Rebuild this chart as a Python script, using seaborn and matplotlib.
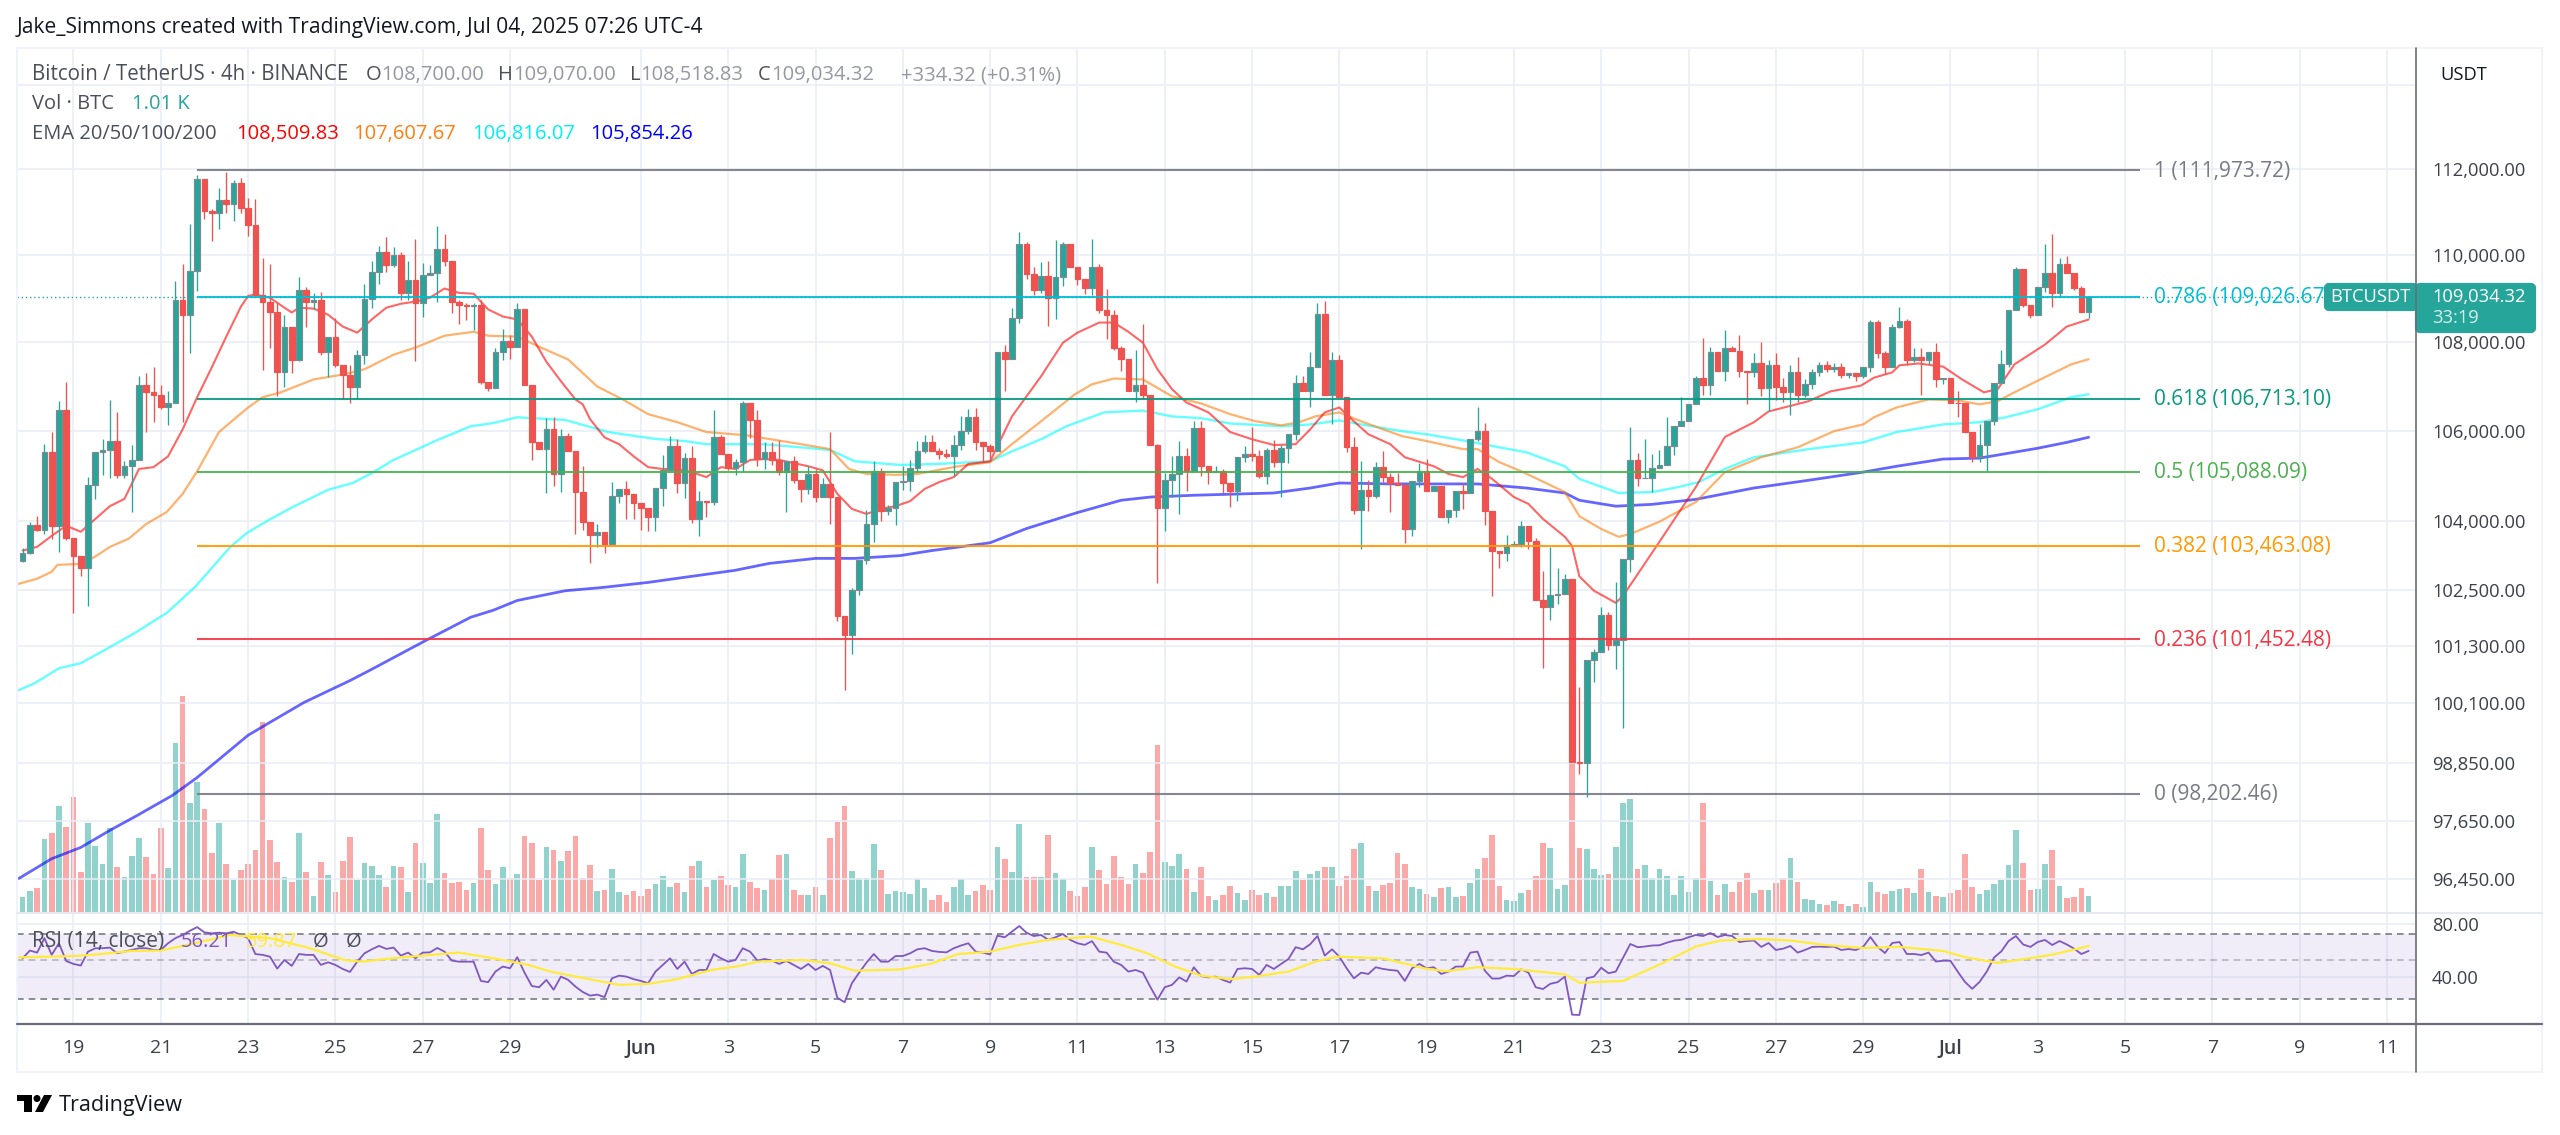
"""BTCUSDT 4h chart with fib levels, EMAs, volume and RSI."""
import matplotlib
matplotlib.use("Agg")
import matplotlib.pyplot as plt
import numpy as np
import pandas as pd
import seaborn as sns
from matplotlib.patches import Circle, FancyBboxPatch, Polygon, Rectangle
from matplotlib.ticker import NullLocator

W, H = 2560, 1135

# candle index 0 is May 19 00:00, six candles a day
first_open = 103140
closes = [
    103310, 103920, 103810, 105520, 103900, 106460, 103640,
    103250, 102990, 104800, 105520, 105570, 105770, 105020, 105210, 105350, 107020,
    106860, 106810, 106540, 106630, 108960, 108620, 109630, 111760, 111020, 110970,
    111270, 111180, 111670, 111090, 110690, 109080, 108920, 108690, 107310, 108350,
    107580, 109190, 108920, 108960, 107760, 108100, 107470, 107260, 106970, 107710,
    108990, 109600, 110070, 109770, 110000, 109120, 109420, 108890, 109540, 109580,
    110130, 109860, 108920, 108850, 108830, 108850, 107100, 106950, 107760, 108030,
    107890, 108760, 107020, 105740, 105590, 106030, 105040, 105880, 105540, 104640,
    103990, 103700, 103770, 103510, 104550, 104710, 104600, 104400, 104290, 104090,
    104730, 105120, 105650, 104840, 105390, 104050, 104440, 104420, 105850, 105480,
    105170, 105300, 106610, 106230, 105370, 105520, 105350, 105080, 105320, 104900,
    104710, 105040, 104530, 104820, 104530, 101940, 101530, 102510, 103160, 103940,
    105100, 104230, 104290, 104860, 104880, 105170, 105540, 105740, 105540, 105480,
    105430, 105680, 105990, 106300, 105740, 105650, 105540, 107760, 107620, 108550,
    110250, 109560, 109190, 109510, 109010, 109490, 110250, 109720, 109440, 109240,
    109720, 108730, 108620, 107850, 107620, 106900, 107020, 106790, 105680, 104290,
    104900, 105040, 105430, 105100, 106050, 105210, 105080, 105100, 104840, 104660,
    105410, 105480, 105430, 105000, 105570, 105300, 105610, 105920, 107060, 106880,
    107420, 108640, 106790, 107580, 106750, 105630, 104250, 104690, 104550, 105190,
    104970, 104840, 104800, 103830, 104880, 105100, 104660, 104770, 104090, 104250,
    104660, 104620, 105810, 105990, 104230, 103340, 103310, 103490, 103510, 103900,
    103570, 102280, 102130, 102390, 102430, 102750, 98870, 98850, 101000, 101170,
    101960, 101320, 101430, 103180, 105350, 104950, 104950, 105170, 105240, 105650,
    106100, 106210, 106590, 107190, 107020, 107760, 107330, 107850, 107800, 107330,
    107310, 107530, 106950, 107470, 106970, 106860, 107310, 106810, 107040, 107310,
    107470, 107380, 107420, 107240, 107290, 107220, 107420, 108460, 107740, 107420,
    108350, 108480, 107600, 107650, 107580, 107760, 107150, 107190, 106630, 106610,
    105970, 105410, 105680, 106210, 107080, 107490, 108730, 109670, 108850, 108620,
    109260, 109580, 109120, 109790, 109580, 109240, 108690, 109034.32,
]
wick_up = [
    110, 65, 200, 175, 460, 200, 640, 0, 0, 175, 0, 240, 925, 640, 110, 330, 200, 285,
    570, 220, 265, 440, 835, 1080, 110, 0, 45, 285, 660, 65, 110, 240, 615, 835, 860,
    220, 265, 0, 285, 65, 155, 175, 0, 440, 0, 220, 110, 330, 265, 130, 330, 175, 65,
    440, 945, 265, 175, 530, 350, 0, 45, 45, 45, 110, 0, 90, 265, 130, 130, 0, 0, 0,
    265, 285, 155, 65, 0, 570, 0, 175, 0, 310, 0, 175, 0, 0, 0, 0, 330, 240, 175, 110,
    265, 220, 0, 615, 65, 0, 65, 65, 0, 240, 220, 220, 440, 0, 110, 0, 175, 110, 130,
    1145, 0, 0, 45, 0, 310, 220, 65, 65, 0, 330, 175, 220, 175, 175, 65, 110, 220, 330,
    175, 200, 0, 65, 0, 175, 220, 265, 45, 155, 310, 350, 860, 45, 0, 0, 0, 640, 65,
    485, 110, 65, 0, 790, 1385, 0, 20, 155, 395, 330, 175, 175, 175, 0, 110, 45, 0, 0,
    175, 595, 130, 45, 220, 65, 0, 200, 175, 350, 240, 285, 200, 130, 0, 240, 640, 220,
    110, 350, 90, 220, 0, 0, 175, 265, 0, 0, 0, 0, 175, 0, 530, 175, 0, 0, 220, 65,
    110, 0, 65, 640, 1055, 550, 110, 0, 1560, 0, 65, 175, 65, 1255, 0, 725, 155, 860,
    310, 330, 660, 0, 550, 0, 45, 900, 130, 0, 420, 65, 350, 0, 220, 460, 110, 285,
    220, 175, 350, 110, 65, 65, 90, 110, 110, 0, 0, 0, 45, 45, 45, 65, 310, 45, 220,
    220, 0, 220, 0, 0, 265, 0, 0, 460, 0, 0, 330, 0, 45, 0, 0, 0, 660, 900, 130, 175,
    0, 45, 20,
]
wick_dn = [
    20, 20, 20, 90, 285, 570, 45, 1230, 175, 835, 310, 505, 615, 65, 65, 1010, 0, 880,
    615, 45, 420, 0, 2420, 880, 460, 200, 660, 375, 200, 395, 110, 265, 45, 1560, 835,
    530, 330, 285, 20, 570, 175, 65, 550, 45, 550, 350, 265, 220, 220, 265, 175, 65,
    175, 175, 1320, 330, 0, 660, 110, 265, 440, 330, 550, 45, 65, 0, 175, 285, 0, 0,
    395, 0, 970, 265, 395, 0, 925, 175, 615, 265, 200, 0, 155, 550, 350, 485, 310, 310,
    395, 45, 220, 330, 90, 375, 330, 65, 0, 45, 155, 220, 395, 155, 220, 110, 65, 880,
    65, 285, 110, 110, 0, 595, 90, 1165, 395, 110, 90, 395, 220, 90, 375, 175, 220, 90,
    45, 0, 110, 45, 440, 110, 65, 175, 330, 220, 0, 725, 0, 110, 110, 110, 65, 640,
    485, 220, 0, 130, 155, 175, 65, 550, 45, 285, 0, 265, 90, 0, 1630, 505, 375, 880,
    440, 0, 220, 265, 0, 220, 350, 220, 110, 110, 45, 175, 110, 770, 330, 130, 0, 350,
    0, 0, 640, 0, 110, 90, 860, 330, 45, 110, 640, 0, 310, 155, 130, 0, 0, 0, 130, 155,
    350, 0, 45, 310, 970, 330, 175, 0, 65, 175, 0, 1300, 265, 175, 0, 0, 240, 705, 460,
    0, 110, 505, 1850, 285, 175, 0, 310, 0, 0, 200, 0, 0, 0, 220, 220, 0, 220, 0, 130,
    705, 110, 175, 505, 285, 220, 505, 175, 65, 110, 90, 65, 65, 65, 65, 110, 45, 110,
    110, 155, 0, 45, 130, 65, 770, 90, 175, 110, 0, 310, 0, 110, 110, 570, 90, 0, 65,
    0, 65, 65, 0, 110, 330, 90, 0, 45, 0, 155,
]
volumes = [
    924, 1344, 1512, 4600, 4977, 6700, 5355, 7245, 2520, 5586, 4180, 3045, 5270, 2835,
    2205, 3550, 4660, 3465, 2415, 5310, 2790, 10650, 13600, 6870, 8190, 6510, 3720,
    5590, 3045, 2040, 2670, 3000, 3885, 11970, 4560, 3150, 2205, 1910, 5000, 2520, 1030,
    3150, 2350, 1280, 3190, 4700, 2000, 3090, 2880, 2350, 1575, 2920, 2835, 1280, 4350,
    3090, 1800, 6200, 2460, 1850, 1890, 1365, 1800, 5270, 2625, 1760, 2835, 2160, 2370,
    4770, 4350, 2040, 4070, 3885, 3230, 3860, 4770, 2160, 2980, 1345, 1400, 2710, 1240,
    1050, 1320, 990, 1470, 1760, 2290, 1600, 1800, 1280, 2920, 3230, 1550, 2000, 2250,
    1720, 1550, 3675, 1890, 1510, 1400, 2100, 3590, 3630, 1400, 1090, 1090, 1550, 1050,
    4640, 5690, 6700, 2560, 2160, 2120, 4300, 2625, 1130, 1340, 1280, 1130, 2080, 1490,
    735, 1090, 650, 1575, 2080, 1090, 1320, 1720, 1400, 4070, 3340, 2520, 5565, 2200,
    2200, 2200, 4830, 2460, 2080, 1340, 1030, 1575, 4070, 2670, 1760, 3510, 2200, 1760,
    3020, 2440, 3780, 10500, 3150, 2920, 3630, 2730, 1280, 2835, 1010, 780, 1050, 1620,
    1220, 780, 1365, 1050, 1220, 970, 1660, 1620, 2600, 2040, 2370, 2560, 2835, 2835,
    1640, 2250, 3990, 4350, 1640, 1320, 1680, 1800, 3720, 3045, 1575, 1450, 1130, 970,
    1530, 1575, 920, 1010, 1800, 2710, 3400, 4830, 1660, 780, 690, 1180, 1400, 2250,
    4350, 4030, 1450, 1720, 9500, 4030, 3970, 2730, 2350, 2370, 4120, 6870, 7100, 2710,
    2960, 2120, 2730, 2250, 1090, 2250, 1280, 2160, 6860, 1960, 1070, 1785, 1250, 1890,
    2450, 1200, 1400, 1380, 1840, 2170, 3420, 1890, 790, 740, 535, 430, 710, 535, 380,
    510, 330, 1890, 1250, 1150, 1350, 1450, 1500, 1200, 2730, 1250, 1020, 940, 1220,
    1380, 3650, 1580, 1120, 1380, 1785, 2010, 2980, 5150, 3060, 1380, 1450, 3010, 3880,
    1610, 870, 970, 1500, 1010,
]
rsi = [
    51.1, 56.5, 55.0, 66.3, 53.4, 62.1, 49.3, 47.5, 46.5, 55.7, 58.2, 58.2, 58.7, 54.5,
    55.7, 57.0, 58.2, 58.2, 57.0, 57.0, 62.1, 66.3, 69.1, 73.0, 76.5, 71.5, 70.6, 71.2,
    70.6, 72.1, 69.1, 66.3, 54.0, 53.4, 52.2, 44.7, 50.0, 46.3, 54.0, 53.4, 53.4, 46.9,
    48.5, 46.9, 44.5, 42.8, 48.9, 54.5, 57.4, 60.0, 57.7, 58.7, 52.9, 55.0, 51.1, 55.0,
    55.2, 58.4, 55.7, 49.6, 48.9, 48.9, 48.9, 38.1, 37.5, 43.0, 45.9, 44.9, 51.8, 42.4,
    35.7, 35.1, 38.6, 34.0, 40.3, 38.6, 35.4, 33.0, 31.5, 31.9, 30.9, 39.4, 40.8, 40.3,
    39.0, 38.1, 37.0, 43.0, 46.9, 51.1, 44.5, 48.9, 41.7, 43.9, 43.9, 54.0, 51.1, 48.9,
    50.0, 58.2, 55.7, 49.6, 50.6, 49.6, 47.5, 49.4, 46.9, 44.5, 47.5, 43.9, 46.3, 43.9,
    30.6, 28.9, 37.0, 42.4, 48.3, 54.0, 48.9, 48.9, 52.6, 52.6, 54.5, 57.4, 58.2, 56.2,
    55.5, 55.2, 58.2, 60.3, 62.1, 55.7, 55.0, 53.7, 68.5, 67.1, 72.1, 77.6, 71.2, 68.2,
    69.1, 64.9, 67.1, 70.0, 64.9, 62.1, 60.8, 63.8, 55.7, 55.0, 48.9, 46.9, 43.0, 43.9,
    42.4, 35.4, 29.9, 35.1, 36.2, 39.9, 37.8, 45.5, 40.6, 39.9, 40.3, 38.6, 37.3, 44.5,
    44.9, 44.5, 41.2, 46.9, 44.5, 47.5, 50.6, 59.0, 57.4, 61.3, 68.2, 52.9, 57.4, 52.2,
    44.9, 39.4, 42.4, 41.7, 45.5, 44.5, 43.9, 43.5, 38.1, 44.9, 47.5, 44.9, 45.5, 41.7,
    43.0, 45.9, 45.9, 55.0, 55.7, 43.5, 39.3, 39.3, 40.8, 40.6, 44.3, 42.4, 35.1, 34.3,
    36.7, 37.5, 40.3, 24.6, 24.5, 39.4, 40.3, 45.2, 42.1, 43.0, 51.5, 61.5, 59.0, 59.5,
    60.3, 60.5, 62.5, 64.2, 64.9, 67.1, 69.1, 68.2, 70.9, 67.3, 69.1, 68.2, 63.1, 63.9,
    64.3, 59.2, 62.3, 56.9, 57.9, 59.9, 55.0, 56.9, 59.2, 59.4, 59.2, 59.4, 56.9, 57.6,
    56.9, 59.2, 67.3, 59.2, 54.7, 62.3, 63.1, 54.0, 54.0, 53.3, 55.0, 49.0, 49.5, 49.5,
    43.0, 37.6, 34.4, 37.6, 43.0, 51.6, 55.9, 63.9, 68.2, 61.1, 59.2, 63.1, 64.8, 60.7,
    63.9, 61.1, 57.9, 54.0, 56.21,
]
rsi_ma_pts = [
    (-7.5, 51.7), (0, 52.6), (2.5, 53.4), (8, 56.2), (12, 56.5), (16.7, 62.1), (21.5, 69.1),
    (27, 66.3), (32.5, 58.2), (37.2, 50.0), (39.6, 48.9), (45, 51.7), (53, 55.0), (57.7, 51.1),
    (62.5, 46.9), (65.6, 43.0), (70.3, 39.4), (75, 36.2), (79, 36.7), (83, 39.0), (87.7, 43.9),
    (91.6, 46.3), (94, 48.9), (100.3, 50.0), (104, 47.9), (107.4, 43.5), (113.6, 44.2),
    (117.8, 47.5), (121.6, 54.0), (126, 55.7), (130, 60.8), (134, 64.9), (139.8, 67.7),
    (144, 60.8), (147.6, 54.5), (151.4, 45.9), (155, 40.8), (159, 39.0), (162.5, 40.3),
    (167, 43.0), (170.7, 48.9), (173.7, 52.2), (180, 51.1), (185.6, 44.9), (188.6, 43.2),
    (193, 45.5), (198, 44.5), (205, 41.5), (207, 37.2), (213, 38.1), (218.4, 47.9), (223, 59.5),
    (226.4, 64.3), (231.7, 65.6), (236, 64.3), (240.8, 60.7), (246, 58.4), (251, 59.2),
    (257, 56.2), (260, 51.9), (264.5, 48.1), (270, 51.9), (272.4, 54.0), (277, 59.87),
]
ema20_pts = [
    (-7, 103360), (-5, 103440), (-3, 103680), (-1, 103900), (1, 103770), (3, 104050), (5, 104330),
    (7, 104490), (9, 105150), (11, 105190), (13, 105430), (15, 106030), (17, 106750), (19, 107420),
    (21, 108120), (23, 108800), (24, 109050), (25, 109080), (27, 109010), (29, 108780), (30, 108670),
    (31, 108780), (33, 108760), (35, 108620), (37, 108350), (39, 108210), (41, 108510), (43, 108780),
    (45, 108870), (47, 108920), (49, 109010), (51, 109220), (53, 109120), (55, 109100), (57, 108740),
    (59, 108580), (61, 108510), (63, 108120), (65, 107550), (67, 107110), (69, 106700), (70, 106590),
    (71, 106260), (73, 105850), (75, 105700), (77, 105430), (79, 105190), (81, 105150), (83, 105150),
    (85, 105080), (87, 104970), (89, 105190), (91, 105150), (93, 105350), (95, 105370), (97, 105350),
    (99, 105280), (101, 105210), (103, 105120), (105, 104600), (107, 104270), (109, 104160),
    (111, 104270), (113, 104330), (115, 104440), (117, 104710), (119, 104860), (121, 104970),
    (123, 105260), (125, 105300), (126, 105320), (129, 106320), (133, 107220), (136, 107980),
    (138, 108210), (141, 108440), (143, 108440), (145, 108230), (147, 107980), (149, 107380),
    (151, 106930), (153, 106630), (156, 106410), (159, 105970), (162, 105810), (165, 105680),
    (168, 105700), (170, 106030), (172, 106410), (174, 106520), (176, 106210), (178, 105920),
    (181, 105700), (183, 105410), (187, 105210), (189, 105040), (191, 104970), (193, 105150),
    (195, 104930), (198, 104530), (200, 104380), (202, 104050), (205, 103660), (206, 103460),
    (207, 102800), (209, 102490), (212, 102230), (213, 102380), (218, 103550), (223, 104750),
    (227, 105860), (231, 106190), (233, 106430), (238.5, 106660), (241.5, 106880), (245.7, 107010),
    (247.5, 107190), (250, 107310), (251, 107470), (253.6, 107510), (257, 107440), (259.6, 107150),
    (262.6, 106860), (264.5, 106930), (266.8, 107490), (271, 107940), (274, 108350), (277, 108509.83),
]
ema50_pts = [
    (-7.5, 102640), (-5, 102750), (-3, 102900), (-2.2, 103050), (1, 103070), (3, 103230), (5, 103440),
    (7.6, 103620), (10, 103940), (12.8, 104200), (15, 104600), (17, 105100), (20, 105970), (24, 106520),
    (26, 106750), (28.5, 106860), (33, 107150), (37, 107260), (40, 107380), (44, 107710), (47, 107870),
    (51, 108140), (55, 108230), (57, 108140), (61, 108120), (64, 107890), (68, 107600), (72, 106990),
    (75.5, 106700), (79, 106370), (83, 106190), (87, 105970), (92.4, 105900), (100, 105700), (104, 105590),
    (106.6, 105150), (109, 105040), (113, 105020), (116, 105040), (121.6, 105210), (126, 105300),
    (129, 105700), (133, 106210), (137.6, 106810), (140, 107040), (143, 107170), (147, 107150),
    (151, 106770), (155, 106610), (159, 106370), (162.5, 106210), (166, 106120), (168.5, 106190),
    (170.7, 106320), (174, 106410), (177, 106210), (182.6, 105880), (186, 105770), (191, 105590),
    (193, 105590), (196, 105300), (199, 105100), (205, 104640), (207, 104110), (210, 103830),
    (212.4, 103660), (214, 103720), (218, 103990), (223, 104420), (227, 105080), (232, 105410),
    (237, 105630), (242, 105990), (246, 106140), (247.5, 106300), (250.6, 106520), (255, 106700),
    (259, 106680), (262, 106590), (264.5, 106660), (266.8, 106860), (269, 107040), (274.6, 107490),
    (277, 107607.67),
]
ema100_pts = [
    (-7.5, 100370), (-5.4, 100510), (-2, 100830), (1, 100940), (5, 101280), (8.4, 101580), (12.8, 102010),
    (16.7, 102570), (21.5, 103430), (23.8, 103740), (27, 104040), (30, 104300), (35, 104690), (38.4, 104840),
    (41, 105060), (44, 105350), (50, 105790), (54.6, 106100), (57.7, 106170), (61, 106300), (67.6, 106240),
    (73.5, 105970), (79.8, 105820), (84, 105770), (87, 105700), (94.8, 105700), (100, 105630), (104, 105570),
    (107.4, 105320), (113.6, 105240), (118.6, 105260), (126, 105320), (129, 105540), (133, 105810),
    (136.5, 106100), (141.7, 106410), (147, 106450), (151, 106320), (155, 106280), (159, 106160),
    (166, 106100), (170, 106140), (174, 106230), (177, 106140), (182.6, 105990), (186, 105920),
    (191.5, 105770), (196, 105630), (199.7, 105520), (205, 105210), (207, 104930), (212.4, 104620),
    (217, 104640), (220.6, 104750), (223.4, 104860), (227, 105150), (231, 105410), (238.5, 105590),
    (246, 105740), (250.6, 105970), (257, 106140), (262, 106190), (265.6, 106300), (270, 106480),
    (274.6, 106750), (277, 106816.07),
]
ema200_pts = [
    (-7.5, 96470), (-3, 96870), (1, 97100), (5, 97450), (8.8, 97760), (13.6, 98170), (17, 98540),
    (24, 99420), (27, 99690), (31.7, 100110), (38, 100570), (41, 100810), (47.9, 101380), (54.6, 101920),
    (57.7, 102070), (61, 102280), (67.6, 102490), (72.7, 102560), (79, 102670), (84, 102780), (90.9, 102930),
    (95.6, 103080), (102, 103190), (107.4, 103190), (113.6, 103250), (118, 103360), (126, 103530),
    (131, 103840), (138, 104190), (144, 104460), (148, 104530), (154, 104570), (165, 104620), (170, 104730),
    (174, 104840), (181, 104820), (193, 104820), (199.7, 104730), (205, 104620), (207, 104460), (212, 104330),
    (217, 104370), (223, 104480), (231, 104730), (238.5, 104900), (246, 105080), (250.6, 105210),
    (257, 105370), (262, 105390), (266, 105500), (270, 105610), (274, 105740), (277, 105854.26),
]
fib_levels = [111973.72, 109026.67, 106713.10, 105088.09, 103463.08, 101452.48, 98202.46]
fib_names = ["1", "0.786", "0.618", "0.5", "0.382", "0.236", "0"]
fib_colors = ["#787b86", "#00bcd4", "#089981", "#4caf50", "#ff9800", "#f23645", "#787b86"]
price_ticks = [112000, 110000, 108000, 106000, 104000, 102500, 101300, 100100, 98850, 97650, 96450]
tick_days = [0, 2, 4, 6, 8, 10, 13, 15, 17, 19, 21, 23, 25, 27, 29, 31, 33, 35, 37, 39, 41, 43, 45, 47, 49, 51, 53]
tick_names = ["19", "21", "23", "25", "27", "29", "Jun", "3", "5", "7", "9", "11", "13", "15", "17", "19", "21",
              "23", "25", "27", "29", "Jul", "3", "5", "7", "9", "11"]

UP, DOWN = "#26a69a", "#ef5350"
GRID = "#e8eef5"
FONT = "Open Sans"

sns.set_theme(style="white")
plt.rcParams["font.family"] = [FONT, "DejaVu Sans"]


def pane(top, bottom):
    """Axes between two pixel rows, from the left frame edge to the price scale."""
    return [17 / W, 1 - bottom / H, (2416 - 17) / W, (bottom - top) / H]


def main() -> None:
    n = len(closes)
    df = pd.DataFrame({"k": np.arange(n) - 7, "close": closes, "up": wick_up, "dn": wick_dn, "vol": volumes, "rsi": rsi})
    df["open"] = df["close"].shift(1).fillna(first_open)
    df["rising"] = df["close"] >= df["open"]
    df["body_top"] = df[["open", "close"]].max(axis=1)
    df["body_low"] = df[["open", "close"]].min(axis=1)
    xlim = (-7.766, 322.0)
    day_ticks = [6 * d for d in tick_days]

    fig = plt.figure(figsize=(W / 100, H / 100), dpi=100, facecolor="white")
    vol_ax = fig.add_axes(pane(48, 913), zorder=1)
    ax = fig.add_axes(pane(48, 913), zorder=2)
    rsi_ax = fig.add_axes(pane(913, 1024), zorder=1)
    top = fig.add_axes([0, 0, 1, 1], zorder=5)
    top.set_xlim(0, W)
    top.set_ylim(H, 0)
    top.axis("off")

    # Volume at the foot of the main pane. No edge: the theme's white one eats the bar width.
    sns.barplot(
        data=df, x="k", y="vol", hue="rising", palette={True: "#92d2cc", False: "#f9a9a8"},
        native_scale=True, dodge=False, width=0.78, errorbar=None, saturation=1, legend=False,
        linewidth=0, ax=vol_ax,
    )
    vol_ax.set_xlim(*xlim)
    vol_ax.set_ylim(-63, 54432)
    vol_ax.axis("off")

    # Price pane.
    ax.patch.set_visible(False)
    ax.set_yscale("log")
    ax.set_xlim(*xlim)
    ax.set_ylim(95770, 114890)
    ax.yaxis.set_minor_locator(NullLocator())
    ax.set_yticks(price_ticks + [114000])
    ax.set_yticklabels([f"{p:,.2f}" for p in price_ticks] + [""])
    ax.yaxis.tick_right()
    ax.tick_params(axis="y", length=0, pad=11.5, labelsize=13.2, labelcolor="#3d404a")
    ax.set_xticks(day_ticks)
    ax.tick_params(axis="x", length=0, labelbottom=False)
    ax.grid(True, color=GRID, lw=1.1, zorder=0)
    ax.set_axisbelow(True)
    for s in ax.spines.values():
        s.set_visible(False)
    ax.axhline(closes[-1], color=UP, lw=1.0, ls=(0, (1, 2)), zorder=1.5)

    ema_sets = [
        (ema200_pts, "#0000ff", 2.0), (ema100_pts, "#00ffff", 1.7),
        (ema50_pts, "#ff7f0e", 1.6), (ema20_pts, "#ff0000", 1.5),
    ]
    for pts, color, lw in ema_sets:
        xs, ys = zip(*pts)
        sns.lineplot(x=list(xs), y=list(ys), color=color, alpha=0.6, lw=lw, estimator=None, ax=ax, zorder=3)

    # Candles.
    wick_colors = [UP if r else DOWN for r in df["rising"]]
    ax.vlines(df["k"], df["body_low"] - df["dn"], df["body_top"] + df["up"], colors=wick_colors, lw=0.95, zorder=4)
    for rising, face, edge in [(True, UP, "#7f8a90"), (False, DOWN, DOWN)]:
        part = df[df["rising"] == rising]
        ax.bar(part["k"], part["body_top"] - part["body_low"], bottom=part["body_low"], width=0.78,
               color=face, edgecolor=edge, lw=0.85, zorder=5)

    # Fib levels.
    for level, name, color in zip(fib_levels, fib_names, fib_colors):
        ax.hlines(level, 17, 284, color=color, lw=1.5, alpha=0.9, zorder=6)
        ax.annotate(f"{name} ({level:,.2f})", xy=(286, level), xytext=(0, -1), textcoords="offset pixels",
                    color=color, fontsize=15, va="center", ha="left", zorder=6)
    ax.set_xlabel("")
    ax.set_ylabel("")

    # RSI pane.
    rsi_ax.set_yscale("log")
    rsi_ax.set_xlim(*xlim)
    rsi_ax.set_ylim(21.8, 91.9)
    rsi_ax.yaxis.set_minor_locator(NullLocator())
    rsi_ax.set_yticks([40, 80])
    rsi_ax.set_yticklabels(["40.00", "80.00"])
    rsi_ax.yaxis.tick_right()
    rsi_ax.tick_params(axis="y", length=0, pad=11.5, labelsize=13.2, labelcolor="#3d404a")
    rsi_ax.set_xticks(day_ticks)
    rsi_ax.set_xticklabels(tick_names)
    rsi_ax.tick_params(axis="x", length=0, pad=11, labelsize=14, labelcolor="#3d404a")
    for label, name in zip(rsi_ax.get_xticklabels(), tick_names):
        if name in ("Jun", "Jul"):
            label.set_fontweight("semibold")
    rsi_ax.grid(True, color=GRID, lw=1.1)
    rsi_ax.set_axisbelow(True)
    for s in rsi_ax.spines.values():
        s.set_visible(False)
    rsi_ax.axhspan(30, 70, color="#7e57c2", alpha=0.1, lw=0, zorder=1)
    rsi_ax.axhline(70, color="#787b86", lw=1.2, ls=(0, (4, 3)), zorder=2)
    rsi_ax.axhline(50, color="#787b86", lw=1.2, ls=(0, (4, 3)), alpha=0.5, zorder=2)
    rsi_ax.axhline(30, color="#787b86", lw=1.2, ls=(0, (4, 3)), zorder=2)
    sns.lineplot(data=df, x="k", y="rsi", color="#7e57c2", lw=1.3, estimator=None, ax=rsi_ax, zorder=3)
    xs, ys = zip(*rsi_ma_pts)
    sns.lineplot(x=list(xs), y=list(ys), color="#ffeb3b", lw=1.6, estimator=None, ax=rsi_ax, zorder=4)
    rsi_ax.set_xlabel("")
    rsi_ax.set_ylabel("")

    # Frame and scale lines.
    top.add_patch(Rectangle((17, 48), 2525, 1024, fill=False, ec="#f0f3fa", lw=1.5))
    top.plot([17, 2542], [913, 913], color="#e6e9f0", lw=1.5)
    top.plot([17, 2542], [1024, 1024], color="#6a6d78", lw=1.6)
    top.plot([2416, 2416], [48, 1072], color="#6a6d78", lw=1.2)

    # Last price tags.
    top.add_patch(FancyBboxPatch((2326, 285), 90, 24, boxstyle="round,pad=0,rounding_size=3", fc=UP, ec=UP, lw=3))
    top.add_patch(FancyBboxPatch((2417, 285), 117, 46, boxstyle="round,pad=0,rounding_size=3", fc=UP, ec=UP, lw=3))
    top.text(2370, 297, "BTCUSDT", color="white", fontsize=13.2, ha="center", va="center")
    top.text(2432, 297, f"{closes[-1]:,.2f}", color="white", fontsize=13.2, va="center")
    top.text(2432, 318, "33:19", color="#d5eeeb", fontsize=13.2, va="center")
    top.text(2440, 75, "USDT", color="#131722", fontsize=13.2, va="center")

    # Header and legend rows.
    dark, grey = "#4c4f5a", "#9598a1"
    top.text(17, 27, "Jake_Simmons created with TradingView.com, Jul 04, 2025 07:26 UTC-4", color="#131722",
             fontsize=15.1, va="center")
    top.text(32, 75, "Bitcoin / TetherUS · 4h · BINANCE", color=dark, fontsize=14.8, va="center")
    row_1 = [
        (366, "O", dark), (381, "108,700.00", grey),
        (498, "H", dark), (513, "109,070.00", grey), (630, "L", dark), (640, "108,518.83", grey),
        (758, "C", dark), (771, "109,034.32", grey), (901, "+334.32 (+0.31%)", grey),
    ]
    row_2 = [(32, "Vol · BTC", dark), (132, "1.01 K", UP)]
    row_3 = [
        (32, "EMA 20/50/100/200", dark), (236, "108,509.83", "#ff0000"), (353, "107,607.67", "#ff7f0e"),
        (472, "106,816.07", "#00f0f0"), (590, "105,854.26", "#0000ff"),
    ]
    row_rsi = [(181, "56.21", "#7e57c2"), (246, "59.87", "#ffeb3b"),
               (313, "Ø", dark), (346, "Ø", dark)]
    for y, row in [(75, row_1), (104, row_2), (134, row_3), (942, row_rsi)]:
        for x, label, color in row:
            top.text(x, y, label, color=color, fontsize=14.5, va="center")
    top.text(32, 942, "RSI (14, close)", color=dark, fontsize=15, va="center")

    # TradingView mark.
    top.add_patch(Rectangle((17, 1095), 15, 6, fc="black", ec="none"))
    top.add_patch(Rectangle((24, 1095), 8, 17, fc="black", ec="none"))
    top.add_patch(Circle((37, 1098.5), 3.5, fc="black", ec="none"))
    top.add_patch(Polygon([(44, 1095), (52, 1095), (43, 1112), (35, 1112)], fc="black", ec="none"))
    top.text(59, 1105, "TradingView", color="#131722", fontsize=15.6, va="center")

    fig.savefig("out.png", dpi=100, facecolor="white")
    plt.close(fig)


if __name__ == "__main__":
    main()
